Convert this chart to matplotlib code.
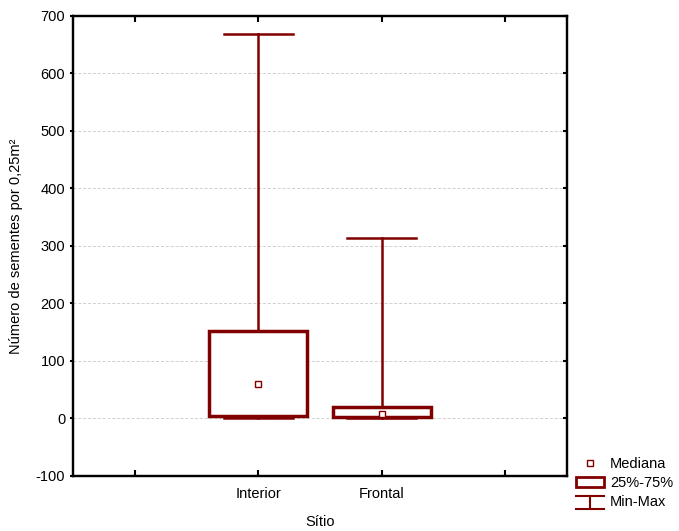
import matplotlib
matplotlib.use('Agg')
import matplotlib.pyplot as plt
from matplotlib.patches import Rectangle, Patch
from matplotlib.lines import Line2D
from matplotlib.legend_handler import HandlerBase

plt.rcParams['font.family'] = ['Liberation Sans', 'DejaVu Sans']
plt.rcParams['font.size'] = 10.5
plt.rcParams['axes.unicode_minus'] = False

# data
sites = ['Interior', 'Frontal']
positions = [2, 3]
medians = [60, 8]
q1 = [4, 2]
q3 = [152, 20]
mins = [0, 0]
maxs = [669, 313]

red = '#800000'


class HandlerMinMax(HandlerBase):
    def create_artists(self, legend, orig_handle, xdescent, ydescent,
                       width, height, fontsize, trans):
        cx = width / 2 - xdescent
        top = height * 1.0 - ydescent
        bot = -height * 0.3 - ydescent
        l1 = Line2D([-xdescent, width - xdescent], [top, top], color=red, lw=1.5)
        l2 = Line2D([cx, cx], [bot, top], color=red, lw=1.5)
        l3 = Line2D([-xdescent, width - xdescent], [bot, bot], color=red, lw=1.5)
        for l in (l1, l2, l3):
            l.set_transform(trans)
        return [l1, l2, l3]


fig = plt.figure(figsize=(6.79, 5.31), dpi=100)
ax = fig.add_axes([0.1075, 0.1036, 0.7275, 0.8664])

box_w = 0.79
cap_w = 0.56
for p, md, a, b, lo, hi in zip(positions, medians, q1, q3, mins, maxs):
    ax.plot([p, p], [b, hi], color=red, lw=1.8, zorder=2)
    ax.plot([p - cap_w / 2, p + cap_w / 2], [hi, hi], color=red, lw=1.8, zorder=2)
    ax.plot([p, p], [lo, a], color=red, lw=1.8, zorder=2)
    ax.plot([p - cap_w / 2, p + cap_w / 2], [lo, lo], color=red, lw=1.8, zorder=2)
    ax.add_patch(Rectangle((p - box_w / 2, a), box_w, b - a, facecolor='white',
                           edgecolor=red, lw=2.5, zorder=3))
    ax.plot(p, md, marker='s', ms=5, mfc='white', mec=red, mew=1.0, ls='none', zorder=4)

ax.set_xlim(0.5, 4.5)
ax.set_ylim(-100, 700)
ax.set_xticks([1, 2, 3, 4])
ax.set_xticklabels(['', 'Interior', 'Frontal', ''])
ax.set_yticks(range(-100, 701, 100))
ax.tick_params(axis='x', direction='in', top=True, length=4, width=1.5, pad=8)
ax.tick_params(axis='y', direction='out', left=True, length=2.5, width=1.5, pad=3)
# inward ticks on the right side
ax2 = ax.twinx()
ax2.set_ylim(ax.get_ylim())
ax2.set_yticks(range(-100, 701, 100))
ax2.set_yticklabels([])
ax2.tick_params(axis='y', direction='in', length=3, width=1.5)
ax.yaxis.grid(True, linestyle=(0, (3, 2)), color='#cfcfcf', lw=0.7)
ax.set_axisbelow(True)
for a_ in (ax, ax2):
    for s in a_.spines.values():
        s.set_linewidth(1.6)

ax.set_xlabel('Sítio', labelpad=10)
ax.set_ylabel('Número de sementes por 0,25m²', labelpad=9)

handles = [
    Line2D([], [], marker='s', ms=5, mfc='white', mec=red, mew=1.0, ls='none'),
    Patch(facecolor='white', edgecolor=red, lw=2),
    'minmax',
]
leg = fig.legend(handles, ['Mediana', '25%-75%', 'Min-Max'],
                 handler_map={str: HandlerMinMax()},
                 loc='lower left', bbox_to_anchor=(0.834, 0.022),
                 frameon=False, handlelength=1.9, handletextpad=0.4,
                 labelspacing=0.35, borderpad=0.2)

fig.savefig('out.png', dpi=100)
